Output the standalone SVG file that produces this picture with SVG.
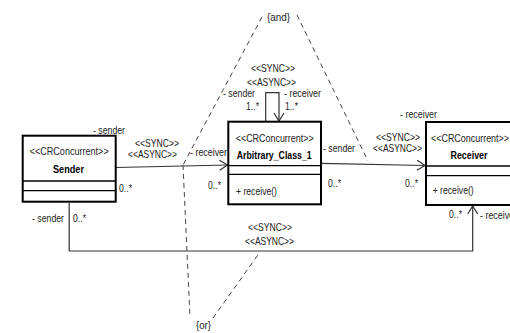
<svg xmlns="http://www.w3.org/2000/svg" width="510" height="333" viewBox="0 0 510 333">
<style>
text{font-family:"Liberation Sans",Arial,sans-serif;font-size:11px;fill:#222}
.b{font-weight:bold;fill:#000}
.c{text-anchor:middle}
.box{fill:#fff;stroke:#000;stroke-width:2}
.cmp{stroke:#000;stroke-width:1.3}
.assoc{fill:none;stroke:#333;stroke-width:1.2}
.dash{fill:none;stroke:#444;stroke-width:1;stroke-dasharray:5,4}
</style>
<defs>
<marker id="open" markerUnits="userSpaceOnUse" markerWidth="12" markerHeight="12" refX="0" refY="0" viewBox="-10 -6 12 12" orient="auto" overflow="visible">
<path d="M-8,-5 L0,0 L-8,5" fill="none" stroke="#333" stroke-width="1.2"/>
</marker>
</defs>
<g id="connectors">
<path class="assoc" d="M116,167.5 L227.5,165" marker-end="url(#open)"/>
<path class="assoc" d="M321,163.3 L425,165.5" marker-end="url(#open)"/>
<path class="assoc" d="M69.2,202.5 L69.2,251 L472.7,251 L472.7,206" marker-end="url(#open)"/>
<path class="assoc" d="M265.7,121 L265.7,92.7 L279,92.7 L279,121" marker-end="url(#open)"/>
<path class="dash" d="M262,17 L183,165"/>
<path class="dash" d="M297,15 L368,161"/>
<path class="dash" d="M183,165 L190,317"/>
<path class="dash" d="M213,318 L260,252"/>
</g>
<g id="Sender">
<rect class="box" x="22.7" y="135.7" width="93" height="66"/>
<line class="cmp" x1="22.7" y1="181" x2="115.7" y2="181"/>
<line class="cmp" x1="22.7" y1="190.7" x2="115.7" y2="190.7"/>
<text class="c" x="69.2" y="155" textLength="79" lengthAdjust="spacingAndGlyphs">&lt;&lt;CRConcurrent&gt;&gt;</text>
<text class="b c" x="68.5" y="173" textLength="31" lengthAdjust="spacingAndGlyphs">Sender</text>
</g>
<g id="Arbitrary_Class_1">
<rect class="box" x="228.3" y="121.7" width="92.7" height="82.6"/>
<line class="cmp" x1="228.3" y1="165.7" x2="321" y2="165.7"/>
<line class="cmp" x1="228.3" y1="174.3" x2="321" y2="174.3"/>
<text class="c" x="274.7" y="141.7" textLength="78" lengthAdjust="spacingAndGlyphs">&lt;&lt;CRConcurrent&gt;&gt;</text>
<text class="b c" x="274.2" y="159" textLength="75" lengthAdjust="spacingAndGlyphs">Arbitrary_Class_1</text>
<text x="236" y="195" textLength="41" lengthAdjust="spacingAndGlyphs">+ receive()</text>
</g>
<g id="Receiver">
<rect class="box" x="426" y="122" width="90" height="83"/>
<line class="cmp" x1="426" y1="166" x2="516" y2="166"/>
<line class="cmp" x1="426" y1="175.7" x2="516" y2="175.7"/>
<text x="431" y="141.7" textLength="78" lengthAdjust="spacingAndGlyphs">&lt;&lt;CRConcurrent&gt;&gt;</text>
<text class="b c" x="469" y="159" textLength="37" lengthAdjust="spacingAndGlyphs">Receiver</text>
<text x="432.7" y="194" textLength="41" lengthAdjust="spacingAndGlyphs">+ receive()</text>
</g>
<g id="labels">
<text x="267" y="21" textLength="23" lengthAdjust="spacingAndGlyphs">{and}</text>
<text x="196" y="329" textLength="15" lengthAdjust="spacingAndGlyphs">{or}</text>
<text x="251" y="72" textLength="44" lengthAdjust="spacingAndGlyphs">&lt;&lt;SYNC&gt;&gt;</text>
<text x="247" y="86" textLength="49" lengthAdjust="spacingAndGlyphs">&lt;&lt;ASYNC&gt;&gt;</text>
<text x="223" y="97" textLength="32" lengthAdjust="spacingAndGlyphs">- sender</text>
<text x="246" y="110" textLength="13" lengthAdjust="spacingAndGlyphs">1..*</text>
<text x="284" y="97" textLength="37" lengthAdjust="spacingAndGlyphs">- receiver</text>
<text x="285" y="110" textLength="13" lengthAdjust="spacingAndGlyphs">1..*</text>
<text x="93" y="134" textLength="32" lengthAdjust="spacingAndGlyphs">- sender</text>
<text x="135" y="147" textLength="44" lengthAdjust="spacingAndGlyphs">&lt;&lt;SYNC&gt;&gt;</text>
<text x="128" y="158" textLength="49" lengthAdjust="spacingAndGlyphs">&lt;&lt;ASYNC&gt;&gt;</text>
<text x="119" y="192" textLength="13" lengthAdjust="spacingAndGlyphs">0..*</text>
<text x="32" y="222" textLength="32" lengthAdjust="spacingAndGlyphs">- sender</text>
<text x="73" y="222" textLength="13" lengthAdjust="spacingAndGlyphs">0..*</text>
<text x="190" y="156" textLength="37" lengthAdjust="spacingAndGlyphs">- receiver</text>
<text x="208" y="189" textLength="13" lengthAdjust="spacingAndGlyphs">0..*</text>
<text x="323" y="152" textLength="32" lengthAdjust="spacingAndGlyphs">- sender</text>
<text x="328" y="187" textLength="13" lengthAdjust="spacingAndGlyphs">0..*</text>
<text x="376" y="141" textLength="44" lengthAdjust="spacingAndGlyphs">&lt;&lt;SYNC&gt;&gt;</text>
<text x="373" y="152" textLength="49" lengthAdjust="spacingAndGlyphs">&lt;&lt;ASYNC&gt;&gt;</text>
<text x="405" y="187" textLength="13" lengthAdjust="spacingAndGlyphs">0..*</text>
<text x="400" y="118" textLength="37" lengthAdjust="spacingAndGlyphs">- receiver</text>
<text x="449" y="218" textLength="13" lengthAdjust="spacingAndGlyphs">0..*</text>
<text x="480" y="219" textLength="37" lengthAdjust="spacingAndGlyphs">- receiver</text>
<text x="248" y="231" textLength="44" lengthAdjust="spacingAndGlyphs">&lt;&lt;SYNC&gt;&gt;</text>
<text x="245" y="245" textLength="49" lengthAdjust="spacingAndGlyphs">&lt;&lt;ASYNC&gt;&gt;</text>
</g>
</svg>
